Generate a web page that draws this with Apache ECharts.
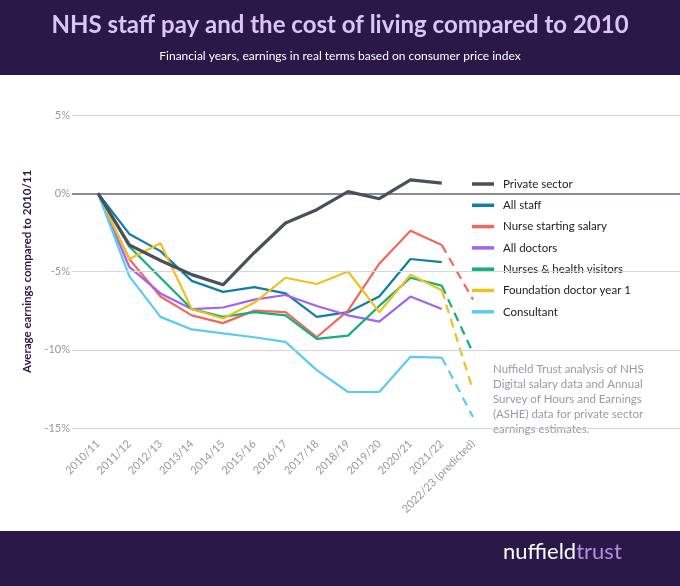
<!DOCTYPE html>
<html>
<head>
<meta charset="utf-8">
<script src="https://cdn.jsdelivr.net/npm/echarts@6/dist/echarts.min.js"></script>
<style>
html, body { margin: 0; padding: 0; background: #fff; }
#chart { width: 680px; height: 586px; }
</style>
</head>
<body>
<div id="chart"></div>
<script>
var years = ['2010/11', '2011/12', '2012/13', '2013/14', '2014/15', '2015/16', '2016/17',
    '2017/18', '2018/19', '2019/20', '2020/21', '2021/22', '2022/23 (predicted)'];
var yTicks = [5, 0, -5, -10, -15];

var privateSector = [0, -3.3, -4.3, -5.2, -5.85, -3.8, -1.9, -1.05, 0.1, -0.35, 0.85, 0.65];
var allStaff = [0, -2.6, -3.7, -5.6, -6.3, -6.0, -6.4, -7.9, -7.6, -6.6, -4.2, -4.4];
var nurseStart = [0, -4.2, -6.6, -7.8, -8.3, -7.5, -7.6, -9.2, -7.5, -4.5, -2.4, -3.3];
var allDoctors = [0, -4.7, -6.4, -7.4, -7.3, -6.8, -6.5, -7.2, -7.8, -8.2, -6.6, -7.4];
var nursesHV = [0, -3.4, -5.4, -7.4, -7.9, -7.6, -7.8, -9.3, -9.1, -7.2, -5.4, -5.9];
var fy1 = [0, -4.2, -3.2, -7.4, -8.0, -7.0, -5.4, -5.8, -5.0, -7.6, -5.2, -6.2];
var consultant = [0, -5.3, -7.9, -8.7, -8.95, -9.2, -9.5, -11.3, -12.7, -12.7, -10.45, -10.5];

// predicted 2022/23 values (dashed), start from 2021/22
var nursePred = -6.8;
var nursesHVPred = -10.2;
var fy1Pred = -12.6;
var consultantPred = -14.3;

var chart = echarts.init(document.getElementById('chart'));

function solid(name, data, color, width) {
    return {
        name: name, type: 'line', data: data, symbol: 'none',
        lineStyle: { color: color, width: width || 2.2 }, itemStyle: { color: color },
        z: width ? 5 : 3
    };
}
function dashed(name, data, pred, color) {
    var d = [];
    for (var i = 0; i < years.length; i++) d.push('-');
    d[11] = data[11];
    d[12] = pred;
    return {
        name: name + ' predicted', type: 'line', data: d, symbol: 'none',
        lineStyle: { color: color, width: 2.2, type: [9, 6] }, itemStyle: { color: color }
    };
}

var colors = {
    priv: '#4a4f5c', staff: '#117ea3', nurse: '#f2685a', doc: '#a263ef',
    hv: '#13b07a', fy1: '#eec11f', cons: '#5ccbf0'
};

var series = [
    solid('Private sector', privateSector, colors.priv, 3.2),
    solid('All staff', allStaff, colors.staff),
    solid('Nurse starting salary', nurseStart, colors.nurse),
    solid('All doctors', allDoctors, colors.doc),
    solid('Nurses & health visitors', nursesHV, colors.hv),
    solid('Foundation doctor year 1', fy1, colors.fy1),
    solid('Consultant', consultant, colors.cons),
    dashed('Nurse starting salary', nurseStart, nursePred, colors.nurse),
    dashed('Nurses & health visitors', nursesHV, nursesHVPred, colors.hv),
    dashed('Foundation doctor year 1', fy1, fy1Pred, colors.fy1),
    dashed('Consultant', consultant, consultantPred, colors.cons)
];
series[0].z = 6;

var option = {
    backgroundColor: '#fff',
    animation: false,
    graphic: [
        { type: 'rect', left: 0, top: 0, shape: { width: 680, height: 75 }, style: { fill: '#2a1848' }, z: -1 },
        { type: 'rect', left: 0, top: 531, shape: { width: 680, height: 55 }, style: { fill: '#2a1848' }, z: -1 },
        { type: 'text', left: 'center', top: 13, style: { text: 'NHS staff pay and the cost of living compared to 2010',
            fill: '#d8c6f6', font: 'bold 24px Lato, "Noto Sans", sans-serif' } },
        { type: 'text', left: 'center', top: 50, style: { text: 'Financial years, earnings in real terms based on consumer price index',
            fill: '#ffffff', font: '12px Lato, "Noto Sans", sans-serif' } },
        { type: 'text', left: 493, top: 362, style: {
            text: 'Nuffield Trust analysis of NHS\nDigital salary data and Annual\nSurvey of Hours and Earnings\n(ASHE) data for private sector\nearnings estimates.',
            fill: '#9a9aa3', font: '11.5px Lato, "Noto Sans", sans-serif', lineHeight: 15 } },
        { type: 'text', left: 503, top: 541, style: {
            text: '{a|nuffield}{b|trust}',
            rich: {
                a: { fill: '#ffffff', font: '22px Lato, "Noto Sans", sans-serif' },
                b: { fill: '#b08ee0', font: '22px Lato, "Noto Sans", sans-serif' }
            } } }
    ],
    legend: {
        orient: 'vertical', left: 467, top: 173, itemGap: 9.3,
        icon: 'rect', itemWidth: 22, itemHeight: 3.5,
        selectedMode: false,
        data: ['Private sector', 'All staff', 'Nurse starting salary', 'All doctors',
            'Nurses & health visitors', 'Foundation doctor year 1', 'Consultant'],
        textStyle: { color: '#222', fontSize: 11.5, fontFamily: 'Lato, "Noto Sans", sans-serif', padding: [0, 0, 0, 4] }
    },
    grid: { left: 98, right: 207, top: 115, bottom: 158, containLabel: false },
    xAxis: {
        type: 'category', data: years, boundaryGap: false,
        axisLine: { show: false }, axisTick: { show: false },
        axisLabel: { rotate: 45, color: '#999', fontSize: 11, fontFamily: 'Lato, "Noto Sans", sans-serif', margin: 14, interval: 0 }
    },
    yAxis: {
        type: 'value', min: -15, max: 5, interval: 5,
        name: 'Average earnings compared to 2010/11', nameLocation: 'middle', nameGap: 54,
        nameTextStyle: { color: '#2a1848', fontWeight: 'bold', fontSize: 11.5, fontFamily: 'Lato, "Noto Sans", sans-serif' },
        axisLine: { show: false }, axisTick: { show: false },
        axisLabel: {
            color: '#999', fontSize: 11, margin: 28, fontFamily: 'Lato, "Noto Sans", sans-serif',
            formatter: function (v) { return yTicks.indexOf(v) >= 0 ? v + '%' : ''; }
        },
        splitLine: { show: false }
    },
    series: series
};
// gridlines run from the label edge to the right edge of the page
option.series.push({
    type: 'line', data: [], silent: true, z: 2,
    markLine: {
        silent: true, symbol: 'none', label: { show: false },
        data: yTicks.map(function (v) {
            var ls = v === 0 ? { color: '#8a8d99', width: 2, type: 'solid' } : { color: '#d6d6da', width: 1, type: 'solid' };
            return [{ coord: [0, v], x: 72, lineStyle: ls }, { coord: [12, v], x: 680 }];
        })
    }
});
chart.setOption(option);
</script>
</body>
</html>
